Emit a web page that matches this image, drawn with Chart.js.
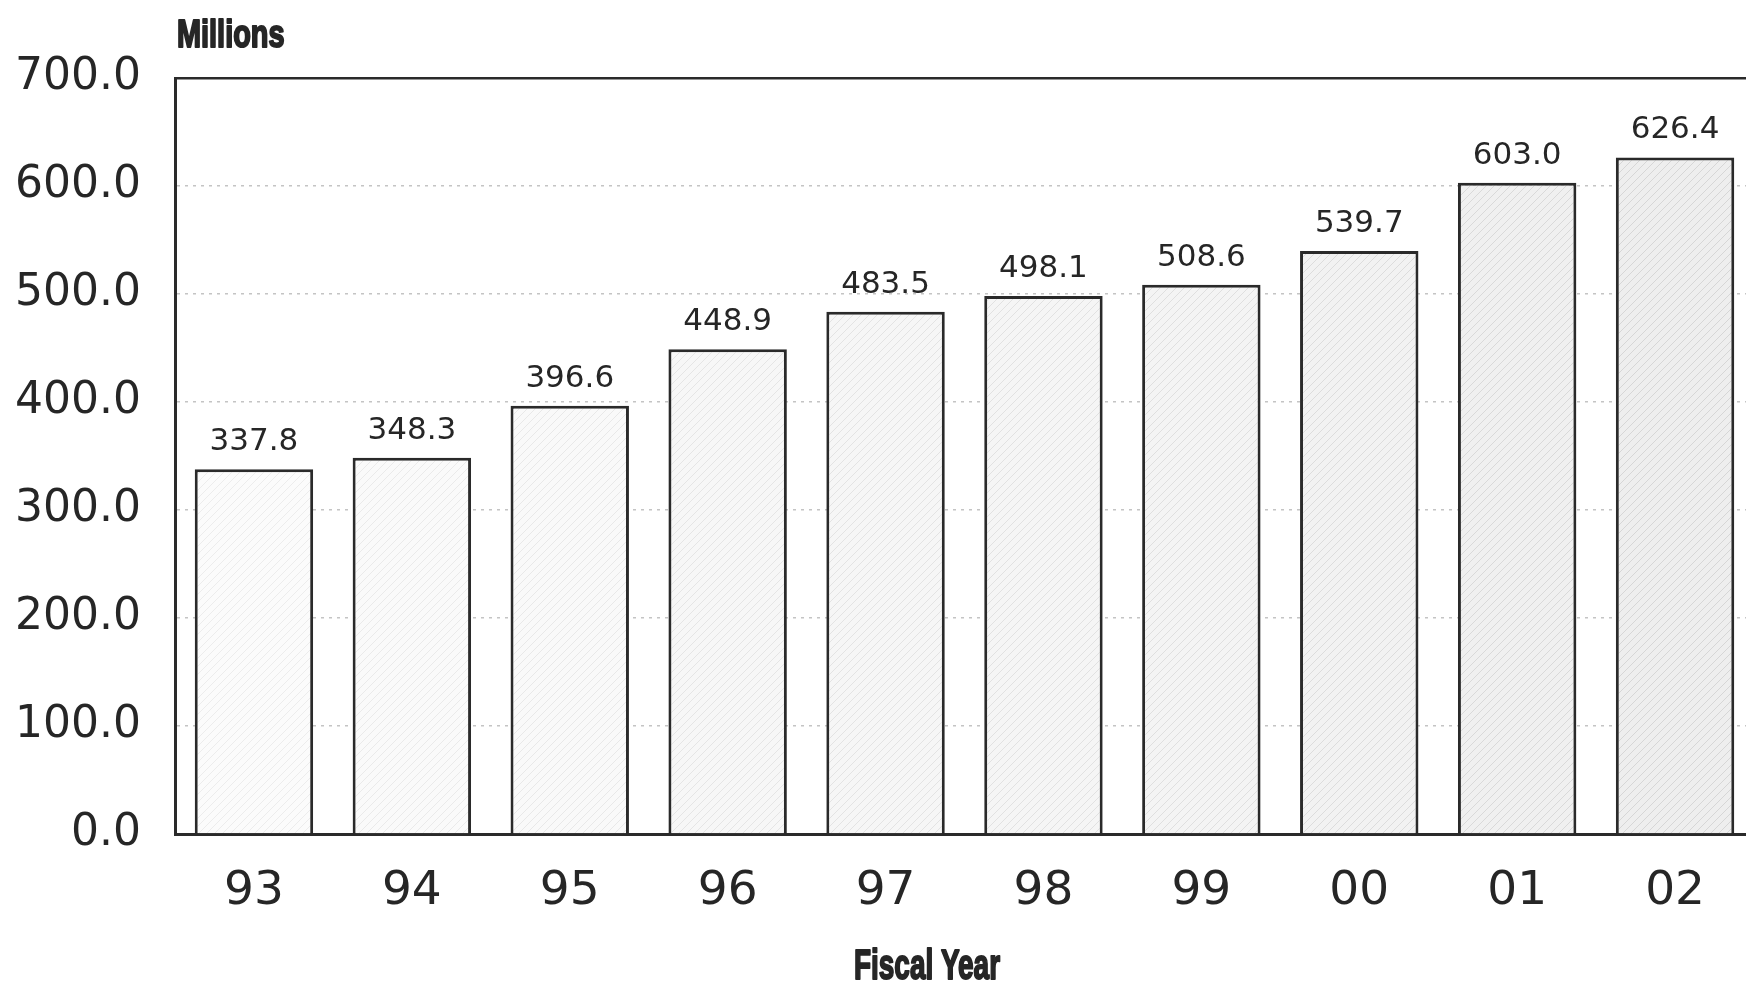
<!DOCTYPE html>
<html>
<head>
<meta charset="utf-8">
<script src="https://cdn.jsdelivr.net/npm/chart.js@4.4.1/dist/chart.umd.min.js"></script>
<style>
  html, body { margin: 0; padding: 0; background: #fff; overflow: hidden; }
  #wrap { width: 1756px; height: 983px; }
</style>
</head>
<body>
<div id="wrap"><canvas id="grafico"></canvas></div>
<script>
// Datos del gráfico
const anios = ['93', '94', '95', '96', '97', '98', '99', '00', '01', '02'];
const valores = [337.8, 348.3, 396.6, 448.9, 483.5, 498.1, 508.6, 539.7, 603.0, 626.4];
const ticksY = [0, 100, 200, 300, 400, 500, 600, 700];
const tituloY = 'Millions';
const tituloX = 'Fiscal Year';

const colorTexto = '#262626';
const colorEje = '#2a2a2a';

// Relleno casi blanco con rayado diagonal tenue, un poco más oscuro hacia la derecha
function crearPatron(fondo, raya) {
    const c = document.createElement('canvas');
    c.width = 8; c.height = 8;
    const g = c.getContext('2d');
    g.fillStyle = fondo;
    g.fillRect(0, 0, 8, 8);
    g.strokeStyle = raya;
    g.lineWidth = 1;
    g.beginPath();
    g.moveTo(0, 8); g.lineTo(8, 0);
    g.moveTo(-2, 2); g.lineTo(2, -2);
    g.moveTo(6, 10); g.lineTo(10, 6);
    g.stroke();
    return g.createPattern(c, 'repeat');
}
const fondos = ['#fbfbfb', '#fafafa', '#f9f9f9', '#f7f7f7', '#f6f6f6', '#f5f5f5', '#f4f4f4', '#f2f2f2', '#f0f0f0', '#eeeeee'];
const rayas = ['#ececec', '#eaeaea', '#e8e8e8', '#e5e5e5', '#e3e3e3', '#e1e1e1', '#dfdfdf', '#dcdcdc', '#d9d9d9', '#d6d6d6'];
const patrones = fondos.map((f, i) => crearPatron(f, rayas[i]));

function textoGrueso(ctx, texto, x, y, escala) {
    ctx.save();
    ctx.translate(x, y);
    ctx.scale(escala, 1);
    ctx.fillText(texto, 0, 0);
    ctx.strokeText(texto, 0, 0);
    ctx.restore();
}

// Etiquetas de valor sobre las barras y títulos de los ejes
const etiquetasPlugin = {
    id: 'etiquetas',
    afterDatasetsDraw(chart) {
        const ctx = chart.ctx;
        const area = chart.chartArea;
        const meta = chart.getDatasetMeta(0);
        ctx.save();
        ctx.fillStyle = colorTexto;
        ctx.font = '31px "DejaVu Sans"';
        ctx.textAlign = 'center';
        ctx.textBaseline = 'alphabetic';
        meta.data.forEach((bar, i) => {
            ctx.fillText(valores[i].toFixed(1), bar.x, bar.y - 19);
        });

        // Títulos en negrita condensada
        ctx.strokeStyle = colorTexto;
        ctx.lineWidth = 2;
        ctx.lineJoin = 'round';
        ctx.font = 'bold 38px "Liberation Sans"';
        ctx.textAlign = 'left';
        textoGrueso(ctx, tituloY, area.left + 2, 47, 0.76);

        ctx.font = 'bold 43px "Liberation Sans"';
        ctx.textAlign = 'center';
        textoGrueso(ctx, tituloX, 927, 979, 0.65);
        ctx.restore();
    }
};

const ctx = document.getElementById('grafico').getContext('2d');
new Chart(ctx, {
    type: 'bar',
    data: {
        labels: anios,
        datasets: [{
            data: valores,
            backgroundColor: (c) => patrones[c.dataIndex % patrones.length],
            borderColor: colorEje,
            borderWidth: 3,
            borderSkipped: 'bottom',
            categoryPercentage: 1.0,
            barPercentage: 0.75
        }]
    },
    options: {
        responsive: true,
        maintainAspectRatio: false,
        animation: false,
        layout: { padding: { top: 78, right: 2, left: 0, bottom: 0 } },
        plugins: {
            legend: { display: false },
            tooltip: { enabled: false }
        },
        scales: {
            x: {
                grid: { display: false, drawTicks: false },
                border: { display: true, color: colorEje, width: 3 },
                ticks: {
                    color: colorTexto,
                    font: { family: 'DejaVu Sans', size: 47 },
                    padding: 30,
                    maxRotation: 0
                },
                afterFit: (scale) => { scale.height = 149; }
            },
            y: {
                min: 0,
                max: 700,
                afterBuildTicks: (scale) => { scale.ticks = ticksY.map(v => ({ value: v })); },
                grid: {
                    drawTicks: false,
                    color: (c) => (c.tick && c.tick.value === 700) ? colorEje : '#c4c4c4',
                    lineWidth: (c) => (c.tick && c.tick.value === 700) ? 2.5 : 1.5
                },
                border: {
                    display: true,
                    color: colorEje,
                    width: 3,
                    dash: (c) => (c.tick && c.tick.value === 700) ? [] : [3, 5]
                },
                ticks: {
                    color: colorTexto,
                    font: { family: 'DejaVu Sans', size: 44 },
                    padding: 34,
                    callback: (v) => Number(v).toFixed(1)
                },
                afterFit: (scale) => { scale.width = 175; }
            }
        }
    },
    plugins: [etiquetasPlugin]
});
</script>
</body>
</html>
